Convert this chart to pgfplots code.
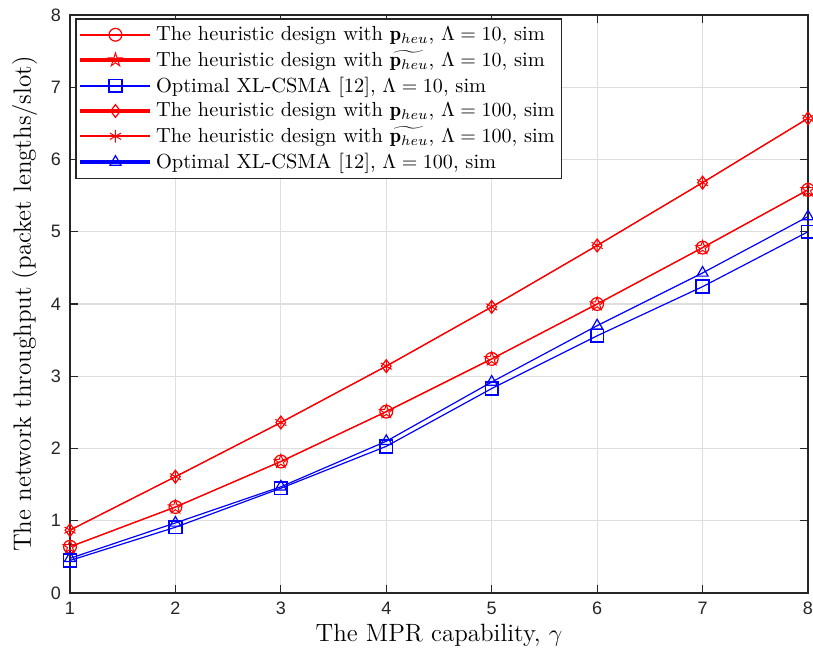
\documentclass[border=0pt]{standalone}
\usepackage{fontspec}
\usepackage{pgfplots}
\pgfplotsset{compat=1.18}
\usetikzlibrary{plotmarks}
\newfontfamily\ticksans{Liberation Sans}

% five-pointed star outline (MATLAB 'pentagram' marker)
\pgfdeclareplotmark{pentagram}{%
  \pgfpathmoveto{\pgfpointpolar{90}{1.1*\pgfplotmarksize}}%
  \pgfpathlineto{\pgfpointpolar{126}{0.42*\pgfplotmarksize}}%
  \pgfpathlineto{\pgfpointpolar{162}{1.1*\pgfplotmarksize}}%
  \pgfpathlineto{\pgfpointpolar{198}{0.42*\pgfplotmarksize}}%
  \pgfpathlineto{\pgfpointpolar{234}{1.1*\pgfplotmarksize}}%
  \pgfpathlineto{\pgfpointpolar{270}{0.42*\pgfplotmarksize}}%
  \pgfpathlineto{\pgfpointpolar{306}{1.1*\pgfplotmarksize}}%
  \pgfpathlineto{\pgfpointpolar{342}{0.42*\pgfplotmarksize}}%
  \pgfpathlineto{\pgfpointpolar{18}{1.1*\pgfplotmarksize}}%
  \pgfpathlineto{\pgfpointpolar{54}{0.42*\pgfplotmarksize}}%
  \pgfpathclose
  \pgfusepathqstroke
}

\definecolor{axgray}{gray}{0.15}
\definecolor{gridgray}{gray}{0.87}

\begin{document}
\begin{tikzpicture}
\useasboundingbox (-35pt,-32pt) rectangle (371.5pt,296.5pt);
\begin{axis}[
  scale only axis,
  width=369pt, height=289pt,
  xmin=1, xmax=8, ymin=0, ymax=8,
  xtick={1,...,8}, ytick={0,...,8},
  grid=major,
  major grid style={gridgray, line width=0.6pt},
  axis line style={axgray, line width=0.6pt},
  tick style={axgray, line width=0.6pt},
  tick align=inside,
  tick pos=both,
  major tick length=4pt,
  /pgf/number format/assume math mode=true,
  tick label style={font=\ticksans\fontsize{9}{10}\selectfont, text=black!85},
  xticklabel style={yshift=-1pt},
  yticklabel style={xshift=-1pt},
  label style={font=\fontsize{12.5}{14}\selectfont},
  xlabel={The MPR capability, $\gamma$},
  ylabel={The network throughput (packet lengths/slot)},
  xlabel style={yshift=2pt},
  ylabel style={yshift=0pt},
  legend style={
    at={(0.007,0.994)}, anchor=north west,
    draw=axgray, line width=0.7pt, fill=white,
    font=\fontsize{10.2}{11}\selectfont,
    inner sep=1.5pt, row sep=-0.3pt,
    cells={anchor=west},
  },
  legend cell align=left,
  legend image code/.code={%
    \draw[mark repeat=2, mark phase=2, #1]
      plot coordinates {(0pt,0pt) (17.5pt,0pt) (35pt,0pt)};},
  every axis plot/.append style={mark size=3.2pt},
  thinleg/.style={legend image post style={line width=0.9pt}},
  thickleg/.style={legend image post style={line width=1.6pt}},
]

% Lambda = 10, p_heu
\addplot[red, line width=0.6pt, mark=o, mark options={line width=0.6pt}, thinleg] coordinates {
  (1,0.64) (2,1.19) (3,1.82) (4,2.51) (5,3.24) (6,4.00) (7,4.78) (8,5.58)};
\addlegendentry{The heuristic design with $\mathbf{p}_{heu}$, $\Lambda=10$, sim}

% Lambda = 10, tilde p_heu
\addplot[red, line width=0.6pt, mark=pentagram, mark options={line width=0.5pt}, thickleg] coordinates {
  (1,0.64) (2,1.19) (3,1.82) (4,2.51) (5,3.24) (6,4.00) (7,4.78) (8,5.58)};
\addlegendentry{The heuristic design with $\widetilde{\mathbf{p}_{heu}}$, $\Lambda=10$, sim}

% XL-CSMA, Lambda = 10
\addplot[blue, line width=0.6pt, mark=square, mark options={line width=0.8pt}, thinleg] coordinates {
  (1,0.45) (2,0.91) (3,1.45) (4,2.03) (5,2.83) (6,3.56) (7,4.24) (8,5.00)};
\addlegendentry{Optimal XL-CSMA [12], $\Lambda=10$, sim}

% Lambda = 100, p_heu
\addplot[red, line width=0.6pt, mark=diamond, mark options={line width=0.6pt}, thickleg] coordinates {
  (1,0.87) (2,1.61) (3,2.36) (4,3.14) (5,3.96) (6,4.81) (7,5.68) (8,6.57)};
\addlegendentry{The heuristic design with $\mathbf{p}_{heu}$, $\Lambda=100$, sim}

% Lambda = 100, tilde p_heu
\addplot[red, line width=0.6pt, mark=asterisk, mark options={line width=0.5pt}, thinleg] coordinates {
  (1,0.87) (2,1.61) (3,2.36) (4,3.14) (5,3.96) (6,4.81) (7,5.68) (8,6.57)};
\addlegendentry{The heuristic design with $\widetilde{\mathbf{p}_{heu}}$, $\Lambda=100$, sim}

% XL-CSMA, Lambda = 100
\addplot[blue, line width=0.6pt, mark=triangle, mark options={line width=0.6pt}, thickleg] coordinates {
  (1,0.48) (2,0.97) (3,1.47) (4,2.10) (5,2.92) (6,3.70) (7,4.43) (8,5.21)};
\addlegendentry{Optimal XL-CSMA [12], $\Lambda=100$, sim}

\end{axis}
\end{tikzpicture}
\end{document}
